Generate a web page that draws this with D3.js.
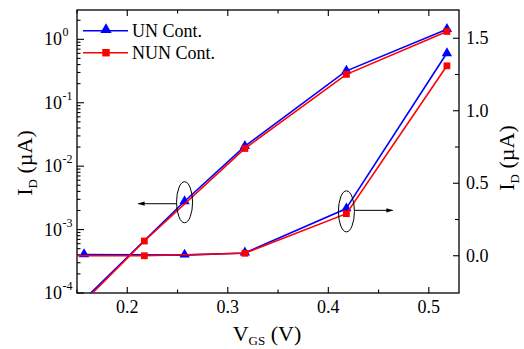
<!DOCTYPE html>
<html>
<head>
<meta charset="utf-8">
<script src="https://cdnjs.cloudflare.com/ajax/libs/d3/7.8.5/d3.min.js"></script>
<style>
  body { margin: 0; background: #fff; }
  svg { font-family: "Liberation Serif", "Times New Roman", serif; }
</style>
</head>
<body>
<svg id="chart"></svg>
<script>
//  data
const vgs_un = [0.157, 0.257, 0.317, 0.418, 0.518];
const log_un = [7.6e-5, 2.7e-3, 0.020, 0.31, 1.40];
const lin_un = [0.004, 0.001, 0.015, 0.32, 1.39];

const vgs_nun = [0.117, 0.217, 0.317, 0.418, 0.518];
const log_nun = [1.7e-5, 6.6e-4, 0.019, 0.28, 1.33];
const lin_nun = [0.0, 0.0, 0.017, 0.29, 1.31];

const legend_labels = ["UN Cont.", "NUN Cont."];
const x_ticks = [0.2, 0.3, 0.4, 0.5];
const left_ticks = [1e-4, 1e-3, 1e-2, 1e-1, 1];
const left_labels = ["-4", "-3", "-2", "-1", "0"];
const right_ticks = [0.0, 0.5, 1.0, 1.5];
const right_labels = ["0.0", "0.5", "1.0", "1.5"];

//  arrow tips (x in V) for the two circled groups
const arrow_to = [0.211, 0.464];

//  draw the dual axis chart
function draw_chart() {
  const w = 524
  const h = 349
  const margin = ({top: 10, right: 65, bottom: 56, left: 77})

  const svg = d3.select("#chart").attr("width", w).attr("height", h)
  svg.selectAll('*').remove()

  const x = d3.scaleLinear().domain([0.15, 0.53]).range([margin.left, w - margin.right])
  const yl = d3.scaleLog().domain([1e-4, 2.9]).range([h - margin.bottom, margin.top])
  const yr = d3.scaleLinear().domain([-0.257, 1.695]).range([h - margin.bottom, margin.top])

  const x0 = margin.left, x1 = w - margin.right
  const y0 = h - margin.bottom, y1 = margin.top

  svg.append("clipPath").attr("id", "plotclip")
     .append("rect").attr("x", x0).attr("y", y1).attr("width", x1 - x0).attr("height", y0 - y1)

  //  ticks
  const x_minor = d3.range(0.15, 0.5301, 0.05).map(v => +v.toFixed(2)).filter(v => !x_ticks.includes(v))
  const left_minor = []
  left_ticks.forEach(d => d3.range(2, 10).forEach(m => { if (d * m <= 2.9) left_minor.push(d * m) }))
  const right_minor = [0.25, 0.75, 1.25]

  const ticks = svg.append("g").attr("stroke", "#000").attr("stroke-width", 1.1)
  x_ticks.forEach(v => {
    ticks.append("line").attr("x1", x(v)).attr("x2", x(v)).attr("y1", y0).attr("y2", y0 - 6)
    ticks.append("line").attr("x1", x(v)).attr("x2", x(v)).attr("y1", y1).attr("y2", y1 + 6)
  })
  x_minor.forEach(v => {
    ticks.append("line").attr("x1", x(v)).attr("x2", x(v)).attr("y1", y0).attr("y2", y0 - 3.5)
    ticks.append("line").attr("x1", x(v)).attr("x2", x(v)).attr("y1", y1).attr("y2", y1 + 3.5)
  })
  left_ticks.forEach(v => ticks.append("line").attr("x1", x0).attr("x2", x0 + 7).attr("y1", yl(v)).attr("y2", yl(v)))
  left_minor.forEach(v => ticks.append("line").attr("x1", x0).attr("x2", x0 + 3.5).attr("y1", yl(v)).attr("y2", yl(v)))
  right_ticks.forEach(v => ticks.append("line").attr("x1", x1).attr("x2", x1 - 6).attr("y1", yr(v)).attr("y2", yr(v)))
  right_minor.forEach(v => ticks.append("line").attr("x1", x1).attr("x2", x1 - 4).attr("y1", yr(v)).attr("y2", yr(v)))

  //  frame
  svg.append("rect").attr("x", x0).attr("y", y1).attr("width", x1 - x0).attr("height", y0 - y1)
     .attr("fill", "none").attr("stroke", "#000").attr("stroke-width", 1.3)

  //  tick labels
  x_ticks.forEach(v => {
    svg.append("text").attr("x", x(v)).attr("y", y0 + 20).attr("text-anchor", "middle")
       .style("font-size", "18px").text(v.toFixed(1))
  })
  left_ticks.forEach((v, i) => {
    svg.append("text").attr("x", x0 - 15).attr("y", yl(v) + 6).attr("text-anchor", "end")
       .style("font-size", "18px").text("10")
    svg.append("text").attr("x", x0 - 14.5).attr("y", yl(v) - 3).attr("text-anchor", "start")
       .style("font-size", "12px").text(left_labels[i])
  })
  right_ticks.forEach((v, i) => {
    svg.append("text").attr("x", x1 + 7).attr("y", yr(v) + 6).attr("text-anchor", "start")
       .style("font-size", "18px").text(right_labels[i])
  })

  //  axis titles
  function id_title(tx, ty) {
    const t = svg.append("text").attr("transform", "translate(" + tx + "," + ty + ") rotate(-90)")
       .attr("text-anchor", "middle").style("font-size", "22px")
    t.append("tspan").text("I")
    t.append("tspan").attr("dy", 5).style("font-size", "13px").text("D")
    t.append("tspan").attr("dy", -5).text(" (\u00b5A)")
  }
  id_title(32, 163)
  id_title(514, 158)

  const xt = svg.append("text").attr("x", 267).attr("y", 341).attr("text-anchor", "middle").style("font-size", "22px")
  xt.append("tspan").text("V")
  xt.append("tspan").attr("dy", 4).style("font-size", "13px").text("GS")
  xt.append("tspan").attr("dy", -4).text(" (V)")

  //  series
  const series = [
    {color: "#0000ff", sym: d3.symbolTriangle, size: 46, xs: vgs_un, logs: log_un, lins: lin_un},
    {color: "#ff0000", sym: d3.symbolSquare, size: 46, xs: vgs_nun, logs: log_nun, lins: lin_nun}
  ]

  const plot = svg.append("g").attr("clip-path", "url(#plotclip)")
  series.forEach(s => {
    const logPts = s.xs.map((v, i) => [x(v), yl(s.logs[i])])
    const linPts = s.xs.map((v, i) => [x(v), yr(s.lins[i])])
    const dx = s.color == "#0000ff" ? -0.5 : 0
    ;[logPts, linPts].forEach(pts => {
      plot.append("path").attr("d", d3.line()(pts.map(p => [p[0] + dx, p[1] + dx])))
          .attr("fill", "none").attr("stroke", s.color).attr("stroke-width", 1.6)
      pts.forEach((p, i) => {
        if (s.xs[i] < 0.15 || p[1] > y0) return;
        plot.append("path").attr("d", d3.symbol().type(s.sym).size(s.size)())
            .attr("transform", "translate(" + p[0] + "," + (p[1] + (s.sym == d3.symbolTriangle ? -1 : 0)) + ")")
            .attr("fill", s.color)
      })
    })
  })

  //  annotations: ellipses with arrows
  const marker = svg.append("defs").append("marker").attr("id", "arrowhead")
     .attr("viewBox", "0 0 10 10").attr("refX", 9).attr("refY", 5)
     .attr("markerWidth", 7).attr("markerHeight", 7).attr("orient", "auto-start-reverse")
  marker.append("path").attr("d", "M0,2 L10,5 L0,8 Z").attr("fill", "#000")

  const e1 = [x(vgs_un[1]), yl(log_un[1])]
  const e2 = [x(vgs_un[3]), yr(lin_un[3]) + 2]
  ;[e1, e2].forEach(c => {
    svg.append("ellipse").attr("cx", c[0]).attr("cy", c[1]).attr("rx", 8).attr("ry", 20.5)
       .attr("fill", "none").attr("stroke", "#000").attr("stroke-width", 1)
  })
  svg.append("line").attr("x1", e1[0] - 8).attr("y1", e1[1] + 1.5).attr("x2", x(arrow_to[0])).attr("y2", e1[1] + 1.5)
     .attr("stroke", "#000").attr("stroke-width", 1).attr("marker-end", "url(#arrowhead)")
  svg.append("line").attr("x1", e2[0] + 8).attr("y1", e2[1] - 1).attr("x2", x(arrow_to[1])).attr("y2", e2[1] - 1)
     .attr("stroke", "#000").attr("stroke-width", 1).attr("marker-end", "url(#arrowhead)")

  //  legend
  series.forEach((s, i) => {
    const ly = 30.7 + i * 22
    svg.append("line").attr("x1", 83).attr("x2", 128).attr("y1", ly).attr("y2", ly)
       .attr("stroke", s.color).attr("stroke-width", 1.6)
    svg.append("path").attr("d", d3.symbol().type(s.sym).size(s.size + 10)())
       .attr("transform", "translate(106," + (ly + (s.sym == d3.symbolTriangle ? -1 : 0)) + ")").attr("fill", s.color)
    svg.append("text").attr("x", 132).attr("y", ly + 6).style("font-size", "18px").text(legend_labels[i])
  })
}

draw_chart();
</script>
</body>
</html>
